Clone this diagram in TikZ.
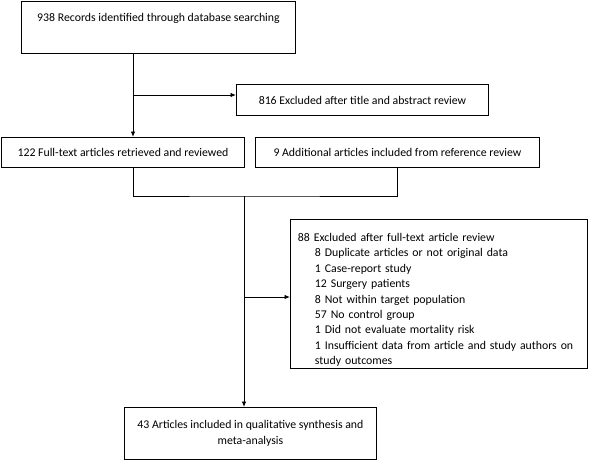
\documentclass[tikz,border=0pt]{standalone}
\usepackage{fontspec}
\setmainfont{Carlito}
\usetikzlibrary{arrows.meta}
\begin{document}
\begin{tikzpicture}[x=1pt,y=-1pt,
  box/.style={draw, line width=0.9pt, inner sep=0pt, anchor=north west,
    font=\fontsize{11.8pt}{15.4pt}\selectfont},
  conn/.style={line width=0.9pt},
  arr/.style={conn,-{Latex[length=5.5pt,width=4.5pt]}}]
\useasboundingbox (0,0) rectangle (600,461);
\node[box, minimum width=274pt, minimum height=52pt, text height=20pt, text depth=32pt] (b1) at (21,1)
  {938 Records identified through database searching};
\node[box, minimum width=252pt, minimum height=31pt] (b2) at (236,84)
  {816 Excluded after title and abstract review};
\node[box, minimum width=243pt, minimum height=30pt] (b3) at (1,137)
  {122 Full-text articles retrieved and reviewed};
\node[box, minimum width=284pt, minimum height=30pt] (b4) at (255,137)
  {9 Additional articles included from reference review};
\node[box, minimum width=297pt, minimum height=149pt, text width=282pt, align=left] (b88) at (290,219)
  {\rule{0pt}{20pt}88 Excluded after full-text article review\\
   \hspace*{17pt}8 Duplicate articles or not original data\\
   \hspace*{17pt}1 Case-report study\\
   \hspace*{17pt}12 Surgery patients\\
   \hspace*{17pt}8 Not within target population\\
   \hspace*{17pt}57 No control group\\
   \hspace*{17pt}1 Did not evaluate mortality risk\\
   \hspace*{17pt}1 Insufficient data from article and study authors on\\
   \hspace*{17pt}study outcomes};
\node[box, minimum width=252pt, minimum height=52pt, align=center] (b5) at (124,407)
  {43 Articles included in qualitative synthesis and\\meta-analysis};
\coordinate (c1) at (133,95);
\coordinate (j) at (244,196);
\coordinate (c2) at (244,297);
\draw[arr] (b1.south -| c1) -- (b3.north -| c1);
\draw[arr] (c1) -- (c1 -| b2.west);
\draw[conn] (b3.south -| c1) |- (j) -| (b4.south);
\draw[arr] (j) -- (b5.north -| j);
\draw[arr] (c2) -- (c2 -| b88.west);
\end{tikzpicture}
\end{document}
